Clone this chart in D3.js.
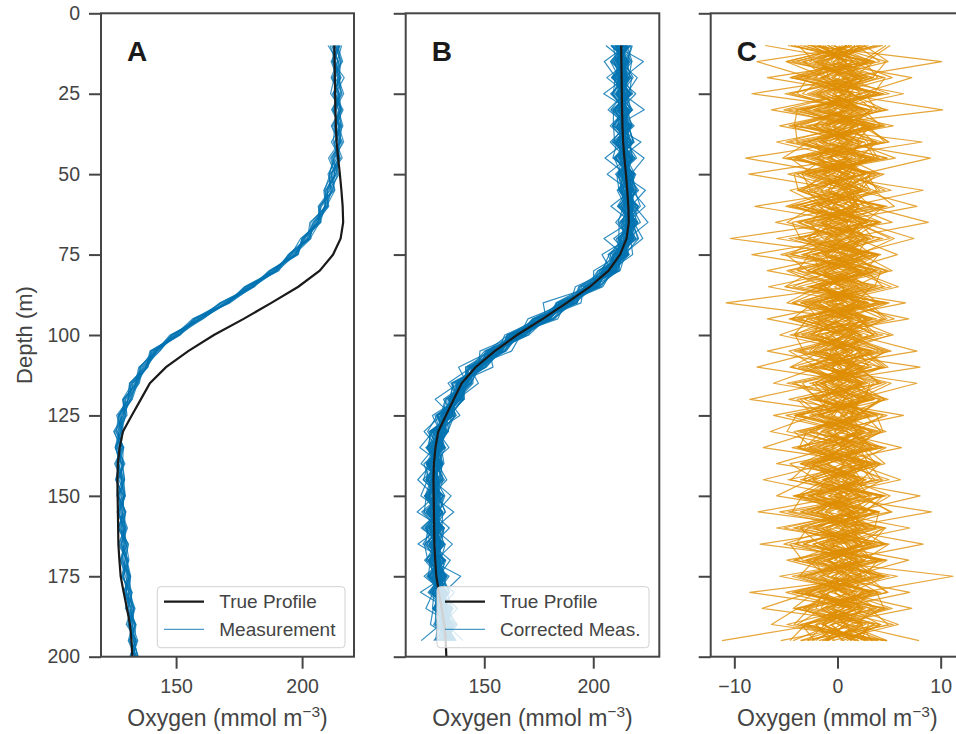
<!DOCTYPE html>
<html><head><meta charset="utf-8">
<script src="https://cdn.jsdelivr.net/npm/d3@7"></script>
<style>body{margin:0;background:#fff;overflow:hidden}svg{display:block}</style>
</head><body><svg id="chart" width="956" height="734"></svg>
<script>
// ---------- DATA ----------
const depthsFull = [10,15,20,25,30,35,40,45,50,55,60,65,70,75,80,85,90,95,100,105,110,115,120,125,130,135,140,145,150,155,160,165,170,175,180,185,190,195,200];
const depthsCorr = [10,15,20,25,30,35,40,45,50,55,60,65,70,75,80,85,90,95,100,105,110,115,120,125,130,135,140,145,150,155,160,165,170,175,180,185,190,195];
const trueProfile = [212.8,212.9,213.0,213.1,213.2,213.4,213.7,214.3,215.0,215.6,216.1,216.3,215.3,212.3,207.0,198.5,187.8,176.8,165.0,154.8,146.0,139.6,136.0,132.4,128.9,127.6,126.9,126.7,126.8,126.9,127.0,127.1,127.5,128.0,129.2,130.5,131.7,132.3,132.6];
const measMean = [213.5,213.6,213.7,213.8,213.9,214.0,214.0,213.5,212.3,210.6,208.5,205.5,201.4,196.3,188.6,179.2,169.4,158.6,149.6,141.4,137.0,133.3,130.6,128.5,127.2,127.3,127.6,127.8,128.0,128.3,128.7,129.1,129.6,130.2,130.9,131.6,132.3,132.8,133.3];
const measResid = [
[1.2,-0.8,1.8,-1.7,0.5,2.2,-1.1,0.3,-2.0,1.4,0.6,-1.2,1.7,-0.3,0.9,-2.1,1.1,0.2,-1.4,2.0,-0.6,0.8,-1.5,1.2,-0.5,1.8,-0.9,0.3,1.4,-1.7,0.6,-0.8,1.5,-1.2,0.5,2.1,-0.3,0.9,-1.4],
[-1.8,0.9,-0.5,2.1,-1.4,0.3,1.5,-2.2,0.8,-0.6,1.8,0.5,-1.1,1.5,-1.7,0.6,-0.3,2.0,0.9,-1.2,1.7,-1.8,0.5,-0.8,1.4,-0.2,1.7,-1.4,0.6,1.1,-1.8,1.2,-0.5,0.8,-1.5,0.3,1.4,-0.9,0.5],
[0.5,2.5,-1.4,0.8,1.7,-2.0,0.6,1.2,-0.9,2.2,-1.5,0.9,0.3,-1.8,1.4,0.5,-1.7,0.8,1.8,-0.5,-1.1,1.4,2.0,-1.2,0.2,-1.5,0.8,1.7,-0.6,0.3,1.2,-2.0,0.9,1.8,-0.8,-1.4,1.1,0.2,1.5],
[-0.9,-1.5,3.0,-0.6,1.1,1.4,-2.4,1.7,0.3,-1.1,0.8,-2.0,2.1,0.6,-0.8,1.7,1.2,-2.1,0.0,1.1,1.4,-0.6,-1.8,1.5,0.9,-1.1,-0.3,1.4,1.8,-0.9,0.0,1.5,-1.7,-0.3,1.2,0.8,-2.1,1.7,-0.6],
[2.2,0.3,-0.9,-2.5,2.0,-0.3,1.2,-1.4,2.4,0.2,-1.2,1.5,-0.8,0.9,1.8,-1.4,0.5,1.4,-2.0,0.6,-0.2,2.1,0.3,-1.4,-0.9,1.7,1.2,-0.8,-1.5,1.5,0.8,-0.3,1.1,-2.0,1.7,-0.6,0.5,-1.2,0.9],
[-0.5,1.7,0.9,1.4,-2.2,1.1,-0.6,2.4,-1.2,-1.7,2.1,-0.3,1.4,-1.4,0.2,1.2,-2.0,0.9,0.5,-1.5,1.8,0.2,-0.8,2.0,-1.7,0.6,0.3,-1.8,1.1,0.5,-1.4,2.0,0.3,-0.9,-0.5,1.8,-1.1,1.2,-1.7],
[1.4,-2.1,0.3,0.5,1.2,-1.4,2.0,-0.5,0.6,1.7,-1.8,1.1,-1.5,2.0,-0.9,0.0,1.7,-1.1,1.2,0.3,-1.5,0.9,1.4,-0.3,2.0,-1.4,0.9,0.6,-1.2,1.8,-0.6,0.2,-1.2,1.5,0.8,-1.7,1.4,-0.5,0.6],
[-1.4,0.6,-2.2,1.1,-0.3,1.8,0.8,-0.9,-1.5,0.9,1.4,-2.4,0.8,0.3,1.5,-1.1,0.9,0.5,-0.8,2.1,0.3,-1.4,1.1,0.6,-2.0,1.2,-0.6,0.9,1.7,-0.5,1.5,-1.1,0.6,1.4,-1.8,0.9,0.2,2.0,-0.8],
[0.8,1.4,1.2,-1.4,2.4,-0.9,-1.7,1.4,1.1,-0.3,0.5,1.8,-2.0,-0.6,1.2,1.5,-1.4,-0.5,1.7,-0.9,0.8,1.5,-1.7,0.9,0.3,-0.8,2.1,-1.2,0.0,1.4,-1.5,1.1,1.7,-1.4,0.3,-0.3,1.8,-1.5,1.2],
[-2.4,-0.3,0.6,2.7,-0.9,0.6,1.4,-1.8,1.8,1.2,-0.8,0.2,1.1,-1.7,2.2,-0.5,0.6,1.8,-1.2,0.2,1.5,-0.9,0.6,-2.1,1.4,0.9,-1.5,0.5,1.5,-1.2,0.9,0.6,-1.8,0.5,1.5,-0.9,-0.2,1.1,-0.3],
[1.7,-1.2,-0.6,0.2,1.4,-2.4,0.5,0.9,-0.6,2.4,1.2,-0.9,-0.3,1.7,-1.2,1.1,2.0,-1.5,0.3,1.4,-1.8,0.5,1.8,0.0,-1.2,2.0,-0.3,-1.7,1.2,0.6,-0.9,1.8,0.0,-1.5,1.1,1.4,-1.2,0.3,1.7],
[-0.2,2.1,-1.8,0.9,-1.8,1.5,-1.2,0.5,1.5,-1.4,0.3,1.4,1.8,-0.8,0.3,-1.8,1.4,0.6,-1.5,0.9,0.6,-1.7,0.2,1.5,0.8,-1.4,1.1,1.8,-1.1,0.0,2.0,-0.8,1.2,0.3,-1.2,1.5,0.6,-1.8,0.5],
[0.9,-1.7,1.5,-1.2,0.6,0.5,2.5,-0.8,-1.4,0.5,-2.1,2.0,-0.6,1.2,-1.5,1.8,0.2,-0.9,1.4,-1.8,1.2,0.9,-1.2,0.5,-0.3,1.5,-2.0,0.8,0.5,-1.5,1.4,0.3,-0.9,1.7,0.2,-1.2,1.7,0.8,-1.1],
[-3.2,0.8,0.5,-0.5,1.5,-1.2,0.9,-3.0,0.9,-0.8,1.5,-0.6,1.2,-1.1,0.8,-0.8,1.5,1.2,-0.6,0.5,-1.2,1.8,-0.5,-0.9,1.5,0.3,-1.1,1.4,-0.8,1.7,-0.3,0.9,-1.4,1.1,-0.6,1.7,-0.9,0.5,1.4],
[0.3,-1.1,1.1,1.8,-1.5,0.9,-0.5,1.5,-0.3,-2.0,0.9,0.6,-1.4,2.2,-0.5,1.4,-0.9,-1.7,2.0,-0.2,1.1,-0.5,1.4,-1.5,0.9,-0.6,1.5,-0.5,1.8,-1.1,0.5,-1.5,0.8,1.2,-0.9,0.5,-1.5,1.4,0.0]
];
// residual of corrected measurement vs. true profile (panel C), one row per cast
const residuals = [
[5.1,2.8,-4.1,1.3,4.6,-2.2,3.5,-0.9,2.7,-3.9,0.6,4.2,-2.9,3.8,-1.4,2.0,-4.3,0.4,3.6,-1.8,-7.8,2.5,-0.5,3.9,-3.6,1.1,3.9,-2.4,1.4,-3.5,2.9,-0.7,4.3,-3.9,0.9,2.2,-3.0,3.8],
[-2.9,10.1,0.8,-4.4,2.5,4.2,-1.3,3.3,-4.8,1.4,-3.2,1.7,5.1,-2.1,3.7,-0.3,2.6,-4.7,0.5,4.0,-1.9,-6.2,3.1,-1.1,2.3,-3.8,0.2,5.0,-2.8,1.6,-5.2,3.6,-0.8,1.9,-4.1,4.6,1.2,-2.5],
[3.6,-1.4,7.2,2.2,-3.3,0.9,-5.0,2.8,0.3,5.2,-2.3,-4.9,1.1,3.4,-0.6,-4.3,3.0,4.8,-1.6,0.8,4.1,-1.3,-8.5,2.7,4.2,-0.2,-3.6,0.6,3.1,-5.6,1.4,2.3,-3.1,5.8,-0.9,-2.8,4.2,0.5],
[-4.8,3.1,-1.7,6.4,-0.8,2.9,4.6,-3.7,1.2,-2.0,4.4,0.5,-3.4,-0.9,4.9,1.6,-2.2,1.4,-4.6,3.3,-1.1,5.2,1.9,-6.2,0.8,4.3,-2.6,1.7,-0.3,3.7,-2.9,-4.0,0.9,2.9,4.8,-1.4,-3.9,2.0],
[0.9,-3.9,2.6,0.2,10.2,-2.8,1.4,5.6,-3.1,1.8,-0.5,2.8,-5.9,3.9,1.1,-2.5,4.6,-1.4,2.2,-4.2,2.9,-0.8,3.5,-2.2,-6.5,1.2,2.5,-4.8,4.4,0.0,3.7,-1.7,1.6,-3.2,0.6,5.3,-0.5,-4.3],
[2.2,0.5,-4.6,4.0,-1.9,5.4,-3.3,0.8,4.1,-1.2,2.0,-3.7,0.3,-5.5,2.8,4.4,-1.1,2.3,-2.9,0.9,-4.5,1.8,4.6,0.6,-2.3,-7.2,3.4,-0.9,2.0,5.3,-0.3,-5.2,2.6,0.8,-2.0,3.1,4.9,-1.5],
[-0.6,4.7,3.4,-2.4,1.4,-4.4,8.2,-1.7,-0.8,3.5,5.5,-1.4,2.4,1.2,-3.8,0.5,3.7,-2.6,0.0,4.9,1.2,-3.4,-2.0,4.4,1.7,-0.6,-5.9,4.0,-4.3,1.1,1.8,4.6,-2.3,-1.2,3.2,-3.7,0.8,2.9],
[4.4,-2.1,0.6,5.0,-4.1,1.5,-0.3,9.0,2.3,-3.0,-1.5,3.8,-0.9,-3.0,1.4,5.2,-1.8,0.9,3.5,-0.8,2.1,4.0,-3.6,-1.4,3.4,2.3,-0.9,-7.2,0.5,-2.6,4.7,0.3,-4.1,2.4,-0.2,1.4,-4.9,3.4],
[-3.2,1.2,5.3,-0.5,2.6,-0.9,4.3,-5.0,4.5,0.6,-4.0,0.0,3.0,1.8,-4.9,-1.2,0.8,4.4,-2.0,2.6,4.6,-1.5,0.9,2.9,-3.3,4.7,1.4,-2.7,-5.9,3.8,-1.1,2.1,3.3,-4.4,1.2,-0.8,2.4,-5.5],
[1.4,-5.0,-1.1,2.7,3.8,-1.5,0.5,2.4,-1.8,8.3,1.1,-2.0,4.1,-0.3,1.7,-5.0,5.0,0.6,-3.5,1.5,-0.6,2.7,-2.4,4.8,0.5,-3.9,2.0,3.3,0.8,-7.7,4.2,-1.8,1.4,4.5,-3.0,1.7,-1.2,0.6],
[4.7,2.4,-2.9,-3.9,0.3,3.6,-2.1,-1.4,3.2,2.0,7.7,-0.6,-2.3,4.2,-0.9,2.6,-3.2,-1.8,5.1,0.3,3.3,-4.4,1.4,1.5,-1.4,3.0,-1.7,1.2,5.1,2.4,-5.9,3.9,-0.9,2.1,4.9,-3.3,0.2,4.4],
[-1.7,3.6,1.5,0.8,-5.2,1.2,2.9,3.9,-1.4,-3.3,2.9,8.8,0.6,-1.5,3.9,-2.1,1.2,5.5,-0.9,-2.7,0.9,2.0,3.6,-4.1,2.7,0.3,4.2,-0.5,-3.5,1.4,2.6,-7.5,4.7,-1.8,0.5,3.6,-2.1,-0.3],
[2.7,-0.3,4.4,-2.1,1.1,-4.7,0.9,-2.6,3.6,0.0,-5.0,2.3,7.4,1.4,-2.9,3.3,1.7,-3.6,1.2,4.4,-2.3,0.6,4.5,1.8,-1.5,-3.2,0.9,4.4,1.5,-1.2,0.5,3.2,-4.9,1.1,3.9,-1.1,5.4,-3.5],
[-4.2,1.5,-0.6,3.2,-2.4,4.2,-4.0,1.1,1.7,-0.9,3.5,-3.2,1.8,5.8,0.6,-0.8,-4.4,2.0,3.9,-0.5,1.5,-2.4,-0.8,3.8,4.4,0.9,-3.0,2.1,-2.1,4.1,-1.5,0.9,3.6,-5.6,2.3,0.5,-3.2,1.8],
[0.5,-2.7,2.0,-1.1,4.2,0.2,-1.5,4.8,-2.9,2.4,-1.2,3.0,-4.1,2.3,5.3,-1.7,2.1,-0.6,-4.2,2.0,4.4,0.5,-3.2,0.9,2.6,-2.0,3.6,-1.4,3.3,1.2,-3.6,2.9,0.8,4.1,-8.5,2.4,0.3,-2.1],
[1.8,4.1,-3.9,0.6,-1.2,2.3,5.0,-4.2,0.8,3.0,-2.6,-0.3,2.9,-3.5,1.8,5.9,-0.8,3.0,1.4,-3.8,-0.9,3.5,2.3,-2.7,0.3,3.9,-2.3,0.0,2.7,-3.0,3.0,-2.4,2.0,0.2,-2.6,-7.3,4.2,0.9],
[-1.4,0.6,2.9,-5.1,2.0,-1.1,0.2,1.8,-3.9,-1.5,4.2,-2.7,-1.4,0.5,4.7,-3.0,6.6,-1.2,2.4,1.2,-3.0,-0.3,4.1,2.1,-3.9,1.7,0.5,-3.3,3.9,1.8,-2.0,4.4,-1.4,2.7,1.4,-3.9,-6.4,4.7],
[3.0,-3.3,-0.9,1.5,-2.9,4.4,-3.5,0.0,2.1,4.1,-0.2,2.1,3.5,-2.4,-1.7,1.4,-0.5,6.9,-2.3,3.3,0.8,2.9,-1.1,-1.8,3.9,-1.2,2.9,0.9,-3.8,0.6,3.8,-0.5,2.7,-2.9,3.5,1.1,-1.8,-11.2],
[-2.3,2.6,3.9,-0.2,0.8,-3.6,2.1,-2.0,0.5,-0.6,1.7,-3.9,0.0,3.0,-2.1,3.9,-2.7,1.5,5.4,-1.4,2.4,-1.4,2.7,0.5,-2.7,3.5,-1.1,2.6,0.9,-2.0,1.2,3.3,-2.7,1.4,-0.6,4.2,1.5,-3.6],
[1.1,-0.9,-2.1,4.4,-3.6,1.7,-0.8,3.5,-2.4,2.9,-3.3,1.4,2.6,-1.2,3.2,-2.3,3.0,-3.9,1.7,7.7,-1.7,4.1,-0.3,-3.5,2.0,-0.5,3.2,-1.5,4.4,2.7,-4.1,0.8,1.7,3.3,-1.4,-2.1,3.0,2.3],
[-7.0,2.0,1.2,-2.9,2.7,-0.3,3.8,-1.2,-3.5,0.9,2.1,0.8,-3.8,2.7,-0.5,3.5,-1.4,2.7,-0.6,-2.4,8.0,-2.1,0.2,3.2,-0.8,2.6,-3.6,1.4,-1.7,3.5,1.1,-3.3,3.9,-0.6,2.9,-1.5,0.9,4.8],
[2.4,-7.8,-2.6,1.4,-0.9,3.0,-2.9,2.3,1.1,-2.3,-0.8,3.3,0.9,-4.4,2.4,-0.9,1.8,-2.1,3.0,0.2,-2.7,7.7,1.7,-0.9,3.2,-2.9,1.2,2.3,-1.4,0.5,-2.4,2.0,-0.3,3.6,-3.5,2.7,-0.6,1.4],
[-0.3,3.3,-6.8,2.4,0.5,-2.3,1.5,-3.0,2.0,3.2,1.2,-1.7,2.1,0.8,-3.0,2.9,-2.4,1.1,-1.2,2.1,3.0,0.0,4.9,-2.4,0.9,3.3,-2.0,-0.8,2.4,-3.6,2.3,-1.1,1.4,-1.7,2.6,0.6,-2.9,3.0],
[1.7,0.0,1.8,-8.3,3.3,0.9,-1.8,2.9,-0.6,-3.8,0.5,2.4,-1.2,1.7,3.6,-1.8,0.6,-3.0,2.3,-1.1,0.3,2.3,-2.7,6.4,-1.1,2.1,3.0,-2.4,0.6,2.0,-0.8,3.0,-2.1,1.2,-2.7,3.3,2.0,-0.9],
[-3.6,2.9,0.5,1.1,-6.4,2.6,1.2,-0.8,3.3,0.3,-1.8,0.3,3.2,-2.3,0.0,2.4,-3.5,2.9,1.1,-1.8,2.6,-1.7,1.4,0.3,4.7,-1.5,2.3,3.6,-2.6,0.9,2.9,-2.3,0.0,3.9,-0.8,-3.2,2.4,0.3],
[0.8,-1.8,3.5,-1.4,1.7,-5.6,2.6,3.6,-1.5,1.2,2.6,-1.1,-2.9,0.9,2.9,-1.4,2.3,0.5,-2.6,3.6,-0.5,1.2,-2.1,2.4,-0.3,6.2,-1.2,1.8,3.0,-0.8,0.9,2.4,-3.0,-0.9,3.2,1.7,-1.2,-2.9],
[-2.0,0.9,-0.3,3.6,0.2,2.0,-5.9,0.6,2.7,-2.7,0.3,2.9,-0.9,2.1,-2.4,1.1,-0.2,3.3,0.6,-2.1,1.8,-0.6,2.9,-1.7,1.4,2.7,4.6,-1.1,-2.0,2.9,-1.4,1.1,2.4,-3.3,1.5,-0.5,3.5,1.2],
[0.2,-0.6,2.3,-1.7,3.0,-0.5,1.1,-8.9,0.0,2.1,-2.4,0.9,1.5,-0.6,2.0,-2.6,2.7,-0.3,1.4,2.4,-1.5,2.4,0.6,-0.3,-2.1,0.8,1.7,6.1,-0.9,2.1,1.7,-1.5,0.5,2.3,-1.8,1.2,-1.5,2.7],
[-0.9,2.1,-1.5,0.5,-1.4,3.3,-2.4,1.5,-8.6,0.8,1.4,-1.5,-0.5,2.6,-1.2,1.7,0.3,-2.3,1.8,-0.2,1.1,-0.9,2.1,1.4,2.3,-2.3,0.6,-0.6,8.0,1.4,-2.1,0.3,1.8,-0.5,0.9,-1.4,2.7,-1.1],
[2.1,-1.6,0.6,3.0,-0.2,-2.3,1.2,-0.6,2.5,-4.6,-1.4,2.4,0.8,-2.1,0.5,3.0,-1.1,0.5,-2.6,1.1,0.0,2.5,-1.9,-0.4,3.3,0.9,-2.5,1.0,-0.8,9.1,0.4,2.0,-1.7,0.6,-3.1,1.3,0.0,3.5],
[-1.8,0.9,-2.3,1.5,3.4,0.4,-2.7,0.9,-0.5,2.0,-8.0,1.4,-0.2,2.8,-1.6,0.2,3.0,-1.9,0.6,-2.4,2.1,-0.2,1.6,0.8,-1.6,2.3,1.2,-2.8,0.5,-1.2,7.0,-0.5,1.8,2.3,-1.7,0.6,-2.1,-0.8],
[1.4,-2.3,0.9,2.2,-0.6,1.8,3.5,-1.0,0.6,2.3,0.5,-6.0,1.9,-1.4,2.0,-1.7,0.3,2.8,-0.5,0.7,-2.6,0.5,-1.3,1.9,0.2,-1.8,2.6,0.1,-2.5,1.8,-0.3,8.3,0.4,-2.6,1.9,0.1,-1.5,2.7],
[-2.5,0.7,2.1,-1.8,0.6,-0.4,2.1,1.3,-1.2,0.6,2.1,0.4,-10.4,1.6,-2.3,0.8,-0.6,2.2,0.7,-1.5,0.4,-2.1,0.8,-0.6,2.5,0.3,-1.4,2.7,-0.1,1.2,0.6,-1.4,6.9,1.2,-0.3,2.5,0.8,-1.2],
[0.8,-1.1,1.8,0.6,-2.2,2.7,-0.4,-1.9,1.6,0.1,-0.9,2.2,1.0,-8.3,1.3,-1.3,2.1,0.0,-2.0,2.3,1.3,-1.2,-0.6,2.0,0.7,-2.7,1.8,0.5,2.2,-1.0,1.9,0.0,-2.3,11.2,2.4,-1.1,0.9,1.6],
[-1.0,2.9,-0.5,1.3,0.9,-1.6,2.4,0.7,-2.1,1.5,1.6,-0.8,2.5,0.4,-6.8,1.5,-1.9,1.1,1.4,-0.6,-1.3,1.7,2.6,-1.9,1.0,0.6,-1.8,2.3,-0.3,1.5,-2.2,1.2,0.7,-1.0,7.0,-0.4,2.4,-1.1],
[1.7,-0.4,0.2,-2.0,1.5,0.9,-1.3,2.8,0.4,-1.6,-0.2,1.0,-1.2,2.4,0.8,-6.7,1.7,-0.6,2.2,0.9,-0.8,2.0,-1.0,0.5,1.9,-1.4,0.7,-0.2,1.7,2.6,-1.1,0.8,2.0,-1.5,0.3,7.2,-0.7,1.4],
[-0.3,1.5,-1.5,0.8,-1.0,1.6,0.2,-0.7,2.7,0.9,2.0,-1.5,0.5,-0.9,2.3,1.1,-10.8,1.6,-0.7,2.0,0.9,-0.5,2.1,1.3,-1.1,1.9,-0.9,2.0,0.2,-1.6,1.3,2.3,-0.8,0.9,-1.4,1.6,5.9,-0.5],
[0.9,-2.0,1.1,-0.4,2.4,-1.2,1.5,0.8,-1.4,2.6,-1.9,0.8,1.9,-1.2,-0.5,2.1,0.6,-6.8,1.3,-0.2,2.4,0.7,-1.7,1.5,-0.3,1.0,2.2,-1.3,1.1,0.6,-1.7,1.5,0.2,2.0,-0.8,-1.6,1.1,7.9],
[-1.2,0.2,2.4,1.2,-0.3,2.0,-1.8,1.1,0.0,-0.9,1.2,2.6,-0.4,1.9,-1.3,0.4,1.5,-1.1,-5.6,1.6,-0.5,1.4,0.3,-1.5,2.3,-0.6,1.0,1.9,-1.9,0.8,2.2,-0.8,1.4,-0.2,1.6,2.0,-1.3,0.5],
[2.6,-1.5,-0.8,0.5,1.9,-0.9,1.0,-2.2,1.7,0.7,-0.4,-1.1,1.3,0.2,2.0,-1.8,0.9,1.4,0.1,-6.8,1.5,-1.7,1.0,2.2,-0.9,0.4,-2.1,1.3,0.8,-1.9,0.2,1.8,-1.0,1.3,2.5,-0.6,0.7,-1.3],
[3.9,-4.4,1.9,-2.6,4.9,-3.1,2.6,-4.0,1.0,4.6,-3.6,4.2,-1.9,-4.6,3.8,-2.8,4.2,-4.5,0.7,5.2,-3.4,2.2,-4.7,3.5,-2.6,4.4,-3.3,2.8,-4.2,3.9,-2.9,4.8,-1.3,4.3,-4.0,2.4,-3.6,4.0],
[-4.5,3.6,-3.2,4.5,-2.0,3.7,-4.7,4.1,-3.4,-2.6,4.8,-3.1,4.4,-2.7,-3.9,4.6,-3.0,3.8,-4.1,-3.3,4.3,-2.7,3.2,-3.8,3.7,-4.4,2.6,-3.6,4.5,-2.1,3.3,-4.2,4.4,-3.5,3.8,4.5,-3.1,-4.6],
[2.6,4.9,-1.4,-3.4,3.1,1.5,-2.8,-5.3,3.8,2.2,-4.4,1.6,5.5,2.1,-2.3,-5.1,2.5,4.6,1.3,-4.7,-2.0,4.7,0.8,-4.2,1.9,3.3,-4.6,-2.0,2.4,5.1,-3.6,-1.8,3.9,2.6,-5.0,1.2,4.1,-2.9],
[-3.8,-2.2,4.6,3.5,-3.9,-4.2,3.8,2.1,-3.1,1.6,3.2,-4.4,-3.6,4.0,2.7,-1.8,-4.9,3.4,-3.3,2.7,4.9,-4.1,-1.6,3.1,-4.2,-2.5,3.1,4.2,-3.4,-4.4,4.4,2.2,-2.2,-3.7,4.2,-4.1,2.3,3.3],
[1.2,-4.9,2.8,-4.7,1.3,4.6,-1.5,4.8,-4.2,-3.8,1.5,5.3,-4.7,0.8,4.2,3.6,-2.3,-4.4,4.4,-1.5,-4.6,3.1,2.7,-5.0,0.9,3.8,-2.8,-4.5,2.1,-2.6,4.6,3.2,-4.3,5.0,-2.2,-4.3,3.6,-1.8],
[-1.9,1.8,-4.5,2.3,-3.3,2.7,4.9,-2.4,2.9,3.8,-1.4,-2.5,2.9,-5.0,-2.9,1.9,3.9,-1.6,-2.3,4.6,2.3,-4.9,4.2,1.8,-3.0,-3.7,4.1,2.3,-2.9,1.7,-4.3,5.0,2.5,-2.3,3.3,-2.7,-4.2,4.8],
[4.2,-3.4,3.3,-0.9,2.2,-4.1,-3.9,3.2,0.7,-3.5,4.5,2.6,-2.8,3.6,-4.6,0.6,-3.6,2.2,3.4,-3.6,1.7,4.3,-3.9,-2.3,4.2,1.5,-2.2,-3.3,4.7,-4.8,2.0,-3.3,4.8,1.7,-4.4,4.9,-1.5,2.1],
[-2.6,0.6,-3.6,4.1,-4.8,3.2,1.8,-4.6,-2.4,2.4,-4.7,3.9,1.4,-3.3,2.2,-3.8,4.8,-2.9,-4.2,3.2,-3.8,1.4,3.5,-4.0,-4.9,2.4,3.7,-1.2,-3.9,4.0,3.6,-4.6,-3.4,4.6,1.3,3.8,-3.5,-2.2]
];
const yTicks = [0,25,50,75,100,125,150,175,200];
const xTicksAB = [150,200];
const xTicksC = [-10,0,10];
const panelLetters = ["A","B","C"];
const legendA = ["True Profile","Measurement"];
const legendB = ["True Profile","Corrected Meas."];

// ---------- STYLE ----------
const FONT = "'Liberation Sans', Arial, Helvetica, sans-serif";
const TXT = "#444444", SPINE = "#454545";
const BLUE = "#0173B2", ORANGE = "#DE8F05", BLACK = "#1a1a1a";

const svg = d3.select("#chart");
const y = d3.scaleLinear().domain([0,200]).range([13.3,656.7]);
const xA = d3.scaleLinear().domain([120.2,220.6]).range([101,354]);
const xB = d3.scaleLinear().domain([113.95,230.3]).range([405.7,659.3]);
const xC = d3.scaleLinear().domain([-12.29,12.26]).range([710.7,964]);
const panels = [{x:xA, xt:xTicksAB},{x:xB, xt:xTicksAB},{x:xC, xt:xTicksC}];

const defs = svg.append("defs");
panels.forEach((p,i)=>{
  const [x0,x1] = p.x.range(), [y0,y1] = y.range();
  defs.append("clipPath").attr("id","clip"+i).append("rect")
    .attr("x",x0).attr("y",y0).attr("width",x1-x0).attr("height",y1-y0);
});

function lineGen(xs){ return d3.line().x(d=>xs(d[0])).y(d=>y(d[1])); }

// Panel A
const gA = svg.append("g").attr("clip-path","url(#clip0)");
measResid.forEach(r=>{
  const pts = depthsFull.slice(0, r.length).map((d,j)=>[measMean[j]+r[j], d]);
  gA.append("path").attr("d", lineGen(xA)(pts)).attr("fill","none")
    .attr("stroke",BLUE).attr("stroke-opacity",0.75).attr("stroke-width",1.2).attr("stroke-linejoin","round");
});
gA.append("path").attr("d", lineGen(xA)(depthsFull.map((d,j)=>[trueProfile[j],d])))
  .attr("fill","none").attr("stroke",BLACK).attr("stroke-width",2.2);

// Panel B
const gB = svg.append("g").attr("clip-path","url(#clip1)");
residuals.forEach(r=>{
  const pts = depthsCorr.slice(0, r.length).map((d,j)=>[trueProfile[j]+r[j], d]);
  gB.append("path").attr("d", lineGen(xB)(pts)).attr("fill","none")
    .attr("stroke",BLUE).attr("stroke-opacity",0.8).attr("stroke-width",1.2).attr("stroke-linejoin","round");
});
gB.append("path").attr("d", lineGen(xB)(depthsFull.map((d,j)=>[trueProfile[j],d])))
  .attr("fill","none").attr("stroke",BLACK).attr("stroke-width",2.2);

// Panel C
const gC = svg.append("g").attr("clip-path","url(#clip2)");
residuals.forEach(r=>{
  const pts = depthsCorr.slice(0, r.length).map((d,j)=>[r[j], d]);
  gC.append("path").attr("d", lineGen(xC)(pts)).attr("fill","none")
    .attr("stroke",ORANGE).attr("stroke-opacity",0.8).attr("stroke-width",1.2).attr("stroke-linejoin","round");
});

// Legends
function legend(x, w, lineX, textX, labels){
  const g = svg.append("g");
  g.append("rect").attr("x",x).attr("y",586.7).attr("width",w).attr("height",61)
    .attr("rx",3.5).attr("fill","#fff").attr("fill-opacity",0.8).attr("stroke","#d0d0d0").attr("stroke-width",1);
  g.append("line").attr("x1",lineX).attr("x2",lineX+40).attr("y1",601.7).attr("y2",601.7)
    .attr("stroke",BLACK).attr("stroke-width",2.2);
  g.append("line").attr("x1",lineX).attr("x2",lineX+40).attr("y1",629.3).attr("y2",629.3)
    .attr("stroke",BLUE).attr("stroke-opacity",0.7).attr("stroke-width",1.3);
  labels.forEach((t,i)=>{
    g.append("text").attr("x",textX).attr("y",i?636:608.3).text(t)
      .attr("font-family",FONT).attr("font-size",19).attr("fill",TXT);
  });
}
legend(157.3, 187.7, 164, 219.3, legendA);
legend(437, 212, 445, 500, legendB);

// Axes, spines, labels
panels.forEach((p,i)=>{
  const [x0,x1] = p.x.range(), [y0,y1] = y.range();
  const ay = svg.append("g").attr("transform",`translate(${x0},0)`)
    .call(d3.axisLeft(y).tickValues(yTicks).tickSize(12).tickPadding(9).tickSizeOuter(0)
      .tickFormat(i===0 ? d3.format("d") : ()=>""));
  const ax = svg.append("g").attr("transform",`translate(0,${y1})`)
    .call(d3.axisBottom(p.x).tickValues(p.xt).tickSize(12).tickPadding(10.6).tickSizeOuter(0)
      .tickFormat(d=> d<0 ? "\u2212"+Math.abs(d) : String(d)));
  [ay,ax].forEach(a=>{
    a.select(".domain").remove();
    a.attr("font-family",FONT).attr("font-size",19.5);
    a.selectAll(".tick line").attr("stroke",SPINE).attr("stroke-width",2);
    a.selectAll(".tick text").attr("fill",TXT);
  });
  svg.append("rect").attr("x",x0).attr("y",y0).attr("width",x1-x0).attr("height",y1-y0)
    .attr("fill","none").attr("stroke",SPINE).attr("stroke-width",2);
  svg.append("text").attr("x",x0+26).attr("y",61).text(panelLetters[i])
    .attr("font-family",FONT).attr("font-size",28).attr("font-weight","bold").attr("fill",BLACK);
  const lab = svg.append("text").attr("x",(x0+x1)/2).attr("y",726).attr("text-anchor","middle")
    .attr("font-family",FONT).attr("font-size",23).attr("fill",TXT);
  lab.append("tspan").text("Oxygen (mmol m");
  lab.append("tspan").attr("dy",-9.5).attr("font-size",15.5).text("\u22123");
  lab.append("tspan").attr("dy",9.5).attr("font-size",23).text(")");
});
svg.append("text").attr("transform","translate(32,335) rotate(-90)").attr("text-anchor","middle")
  .attr("font-family",FONT).attr("font-size",22).attr("fill",TXT).text("Depth (m)");
</script></body></html>
